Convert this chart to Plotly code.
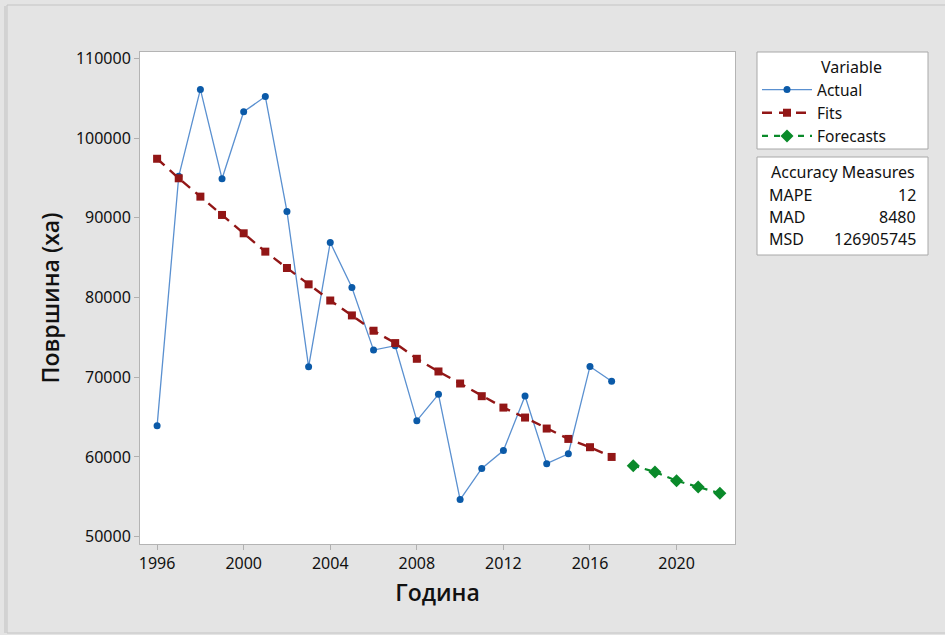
import plotly.graph_objects as go

# Trend analysis of harvested area: observed values, fitted trend and forecasts
actual_years = list(range(1996, 2018))
actual_values = [63900, 95200, 106100, 94900, 103300, 105200, 90800, 71300,
                 86900, 81250, 73400, 73950, 64550, 67850, 54650, 58550,
                 60800, 67650, 59150, 60400, 71350, 69500]

fit_values = [97400, 94950, 92650, 90350, 88050, 85750, 83700, 81650,
              79620, 77750, 75830, 74280, 72310, 70720, 69210, 67620,
              66190, 64940, 63560, 62260, 61220, 60000]

forecast_years = list(range(2018, 2023))
forecast_values = [58910, 58120, 57020, 56230, 55440]

x_ticks = [1996, 2000, 2004, 2008, 2012, 2016, 2020]
y_ticks = [50000, 60000, 70000, 80000, 90000, 100000, 110000]

accuracy_labels = ["MAPE", "MAD", "MSD"]
accuracy_values = ["12", "8480", "126905745"]

W, H = 945, 635
ML, MR, MT, MB = 140, 210, 52, 91
PW, PH = W - ML - MR, H - MT - MB


def px(x):
    return (x - ML) / PW


def py(y):
    return (H - MB - y) / PH


FONT = "Noto Sans"
TITLE_FONT = "Open Sans"
TXT = "#111111"

fig = go.Figure()

fig.add_trace(go.Scatter(
    x=actual_years, y=actual_values, name="Actual", mode="lines+markers",
    line=dict(color="#5a90d0", width=1.3),
    marker=dict(symbol="circle", size=7, color="#0b5aa8"),
))
fig.add_trace(go.Scatter(
    x=actual_years, y=fit_values, name="Fits", mode="lines+markers",
    line=dict(color="#921616", width=2.4, dash="10px,7px"),
    marker=dict(symbol="square", size=8, color="#921616"),
))
fig.add_trace(go.Scatter(
    x=forecast_years, y=forecast_values, name="Forecasts", mode="lines+markers",
    line=dict(color="#0a8a2a", width=2.2, dash="6px,6px"),
    marker=dict(symbol="diamond", size=10, color="#0a8a2a"),
))

axis_common = dict(
    showline=True, mirror=True, linecolor="#b4b4b4", linewidth=1,
    ticks="outside", ticklen=5, tickcolor="#b0b0b0", tickwidth=1,
    showgrid=False, zeroline=False,
    tickfont=dict(family=FONT, size=16, color=TXT),
)

fig.update_xaxes(
    range=[1995.21, 2022.7], tickvals=x_ticks,
    title=dict(text="Година",
               font=dict(family=TITLE_FONT, size=23, color=TXT, weight=600),
               standoff=11),
    **axis_common,
)
fig.update_yaxes(
    range=[49080, 110790], tickvals=y_ticks, tickformat="d",
    title=dict(text="Површина (ха)",
               font=dict(family=TITLE_FONT, size=23, color=TXT, weight=600),
               standoff=9),
    **axis_common,
)

shapes = [
    # window frame around the graph
    dict(type="rect", xref="paper", yref="paper",
         x0=px(7), x1=px(960), y0=py(633), y1=py(5),
         line=dict(color="#c4c4c4", width=1), layer="below"),
    dict(type="line", xref="paper", yref="paper",
         x0=px(5.5), x1=px(5.5), y0=py(633), y1=py(6),
         line=dict(color="#d2d2d2", width=3), layer="below"),
    # legend box
    dict(type="rect", xref="paper", yref="paper",
         x0=px(757), x1=px(928), y0=py(149), y1=py(52),
         line=dict(color="#a8a8a8", width=1), fillcolor="white", layer="below"),
    # accuracy measures box
    dict(type="rect", xref="paper", yref="paper",
         x0=px(757), x1=px(928), y0=py(255), y1=py(157),
         line=dict(color="#a8a8a8", width=1), fillcolor="white", layer="below"),
]

annotations = [
    dict(text="Variable", x=px(851), y=py(67), xref="paper", yref="paper",
         xanchor="center", yanchor="middle", showarrow=False,
         font=dict(family=FONT, size=16, color=TXT)),
    dict(text="Accuracy Measures", x=px(843), y=py(172), xref="paper", yref="paper",
         xanchor="center", yanchor="middle", showarrow=False,
         font=dict(family=FONT, size=16, color=TXT)),
]
for i, (lab, val) in enumerate(zip(accuracy_labels, accuracy_values)):
    yy = 195 + 22 * i
    annotations.append(dict(text=lab, x=px(767), y=py(yy), xref="paper", yref="paper",
                            xanchor="left", yanchor="middle", showarrow=False,
                            font=dict(family=FONT, size=16, color=TXT)))
    annotations.append(dict(text=val, x=px(918), y=py(yy), xref="paper", yref="paper",
                            xanchor="right", yanchor="middle", showarrow=False,
                            font=dict(family=FONT, size=16, color=TXT)))

fig.update_layout(
    width=W, height=H,
    margin=dict(l=ML, r=MR, t=MT, b=MB, autoexpand=False),
    paper_bgcolor="#e4e4e4", plot_bgcolor="white",
    shapes=shapes, annotations=annotations,
    showlegend=True,
    legend=dict(
        x=px(757), y=py(73), xanchor="left", yanchor="top",
        bgcolor="rgba(0,0,0,0)", borderwidth=0,
        font=dict(family=FONT, size=15.5, color=TXT),
        itemwidth=50, tracegroupgap=0,
    ),
)

fig.write_html("out.html")
